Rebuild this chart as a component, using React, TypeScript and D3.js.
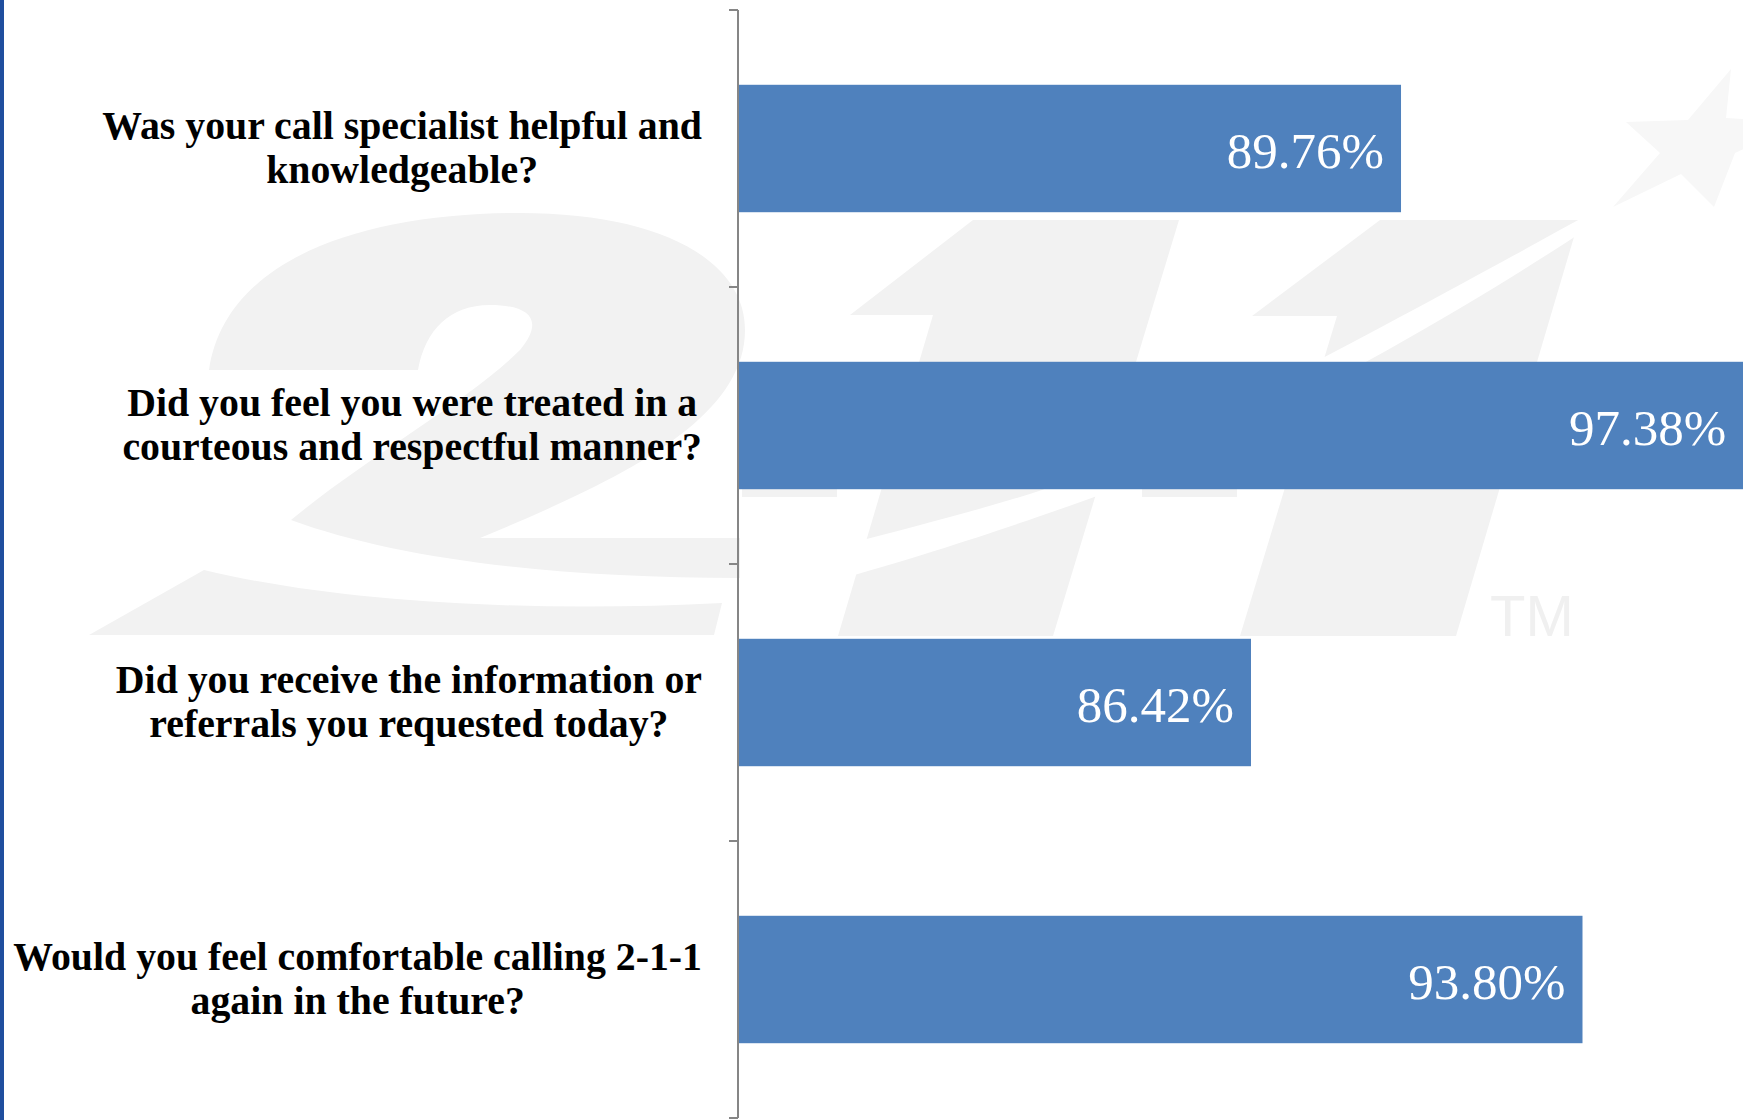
import { useEffect, useRef } from "react";
import * as d3 from "d3";

// survey questions (line breaks as in the picture)
const questions = [
  "Was your call specialist helpful and\nknowledgeable?",
  "Did you feel you were treated in a\ncourteous and respectful manner?",
  "Did you receive the information or\nreferrals you requested today?",
  "Would you feel comfortable calling 2-1-1\nagain in the future?",
];
const satisfaction = [89.76, 97.38, 86.42, 93.8];
const valueLabels = ["89.76%", "97.38%", "86.42%", "93.80%"];
const xDomain = [75, 100];

const W = 1743;
const H = 1120;

// faint 2-1-1 logo drawn behind the chart
const logoTwo =
  "M209,370 C225,260 360,213 520,213 C660,213 745,260 745,330 C745,420 620,480 480,538 L740,538 L740,578 C560,578 400,560 291,520 C370,455 470,400 520,350 C545,320 530,305 490,305 C450,305 425,330 418,370 Z";
const logoSwoosh = "M89,635 L204,570 C350,605 550,612 722,603 L714,635 Z";
const logoOneA = "M973,220 L1179,220 L1053,636 L838,636 L933,315 L850,315 Z";
const logoOneB = "M1380,220 L1579,220 L1456,636 L1240,636 L1337,316 L1252,316 Z";
const logoGap =
  "M1582,218 C1450,290 1200,430 1042,490 C980,510 920,525 840,546 L830,582 C950,548 1030,520 1097,496 C1250,430 1450,320 1588,228 Z";
const logoStar =
  "M1731,69 L1726,118 L1800,122 L1735,153 L1714,207 L1681,174 L1613,207 L1660,153 L1626,122 L1688,120 Z";

export default function App() {
  const ref = useRef<SVGSVGElement>(null);

  useEffect(() => {
    d3.select("body").style("margin", "0");
    const svg = d3.select(ref.current);
    svg.selectAll("*").remove();

    svg.append("rect").attr("width", W).attr("height", H).attr("fill", "#ffffff");

    // watermark
    const logo = svg.append("g").attr("fill", "#f2f2f2");
    logo.append("path").attr("d", logoTwo);
    logo.append("path").attr("d", logoSwoosh);
    logo.append("rect").attr("x", 742).attr("y", 470).attr("width", 95).attr("height", 27);
    logo.append("rect").attr("x", 1142).attr("y", 470).attr("width", 95).attr("height", 27);
    logo.append("path").attr("d", logoOneA);
    logo.append("path").attr("d", logoOneB);
    logo.append("path").attr("d", logoGap).attr("fill", "#ffffff");
    logo.append("path").attr("d", logoStar).attr("fill", "#f7f7f7");
    logo
      .append("text")
      .attr("x", 1490)
      .attr("y", 636)
      .attr("font-family", "Liberation Sans, Arial, sans-serif")
      .attr("font-size", 58)
      .attr("fill", "#f0f0f0")
      .text("TM");

    // left border
    svg.append("rect").attr("x", 0).attr("y", 0).attr("width", 4).attr("height", H).attr("fill", "#1f4e9e");

    const x = d3.scaleLinear().domain(xDomain).range([738, 1861]);
    const y = d3
      .scaleBand<string>()
      .domain(questions)
      .range([10, 1118])
      .paddingInner(0.54)
      .paddingOuter(0.27);

    // bars
    svg
      .selectAll("rect.bar")
      .data(questions)
      .enter()
      .append("rect")
      .attr("class", "bar")
      .attr("x", x(xDomain[0]))
      .attr("y", (d) => y(d)!)
      .attr("width", (d, i) => x(satisfaction[i]) - x(xDomain[0]))
      .attr("height", y.bandwidth())
      .attr("fill", "#4f81bd");

    // value labels
    svg
      .selectAll("text.value")
      .data(questions)
      .enter()
      .append("text")
      .attr("class", "value")
      .attr("x", (d, i) => x(satisfaction[i]) - 17)
      .attr("y", (d) => y(d)! + y.bandwidth() / 2)
      .attr("dy", "0.38em")
      .attr("text-anchor", "end")
      .attr("font-family", "Liberation Serif, Times New Roman, serif")
      .attr("font-size", 51)
      .attr("fill", "#ffffff")
      .text((d, i) => valueLabels[i]);

    // axis line with ticks at band edges
    const x0 = x(xDomain[0]);
    const axis = svg.append("g").attr("stroke", "#868686").attr("stroke-width", 2);
    axis.append("line").attr("x1", x0).attr("x2", x0).attr("y1", 10).attr("y2", 1118);
    d3.range(questions.length + 1).forEach((i) => {
      const ty = y.range()[0] + i * y.step();
      axis.append("line").attr("x1", x0 - 9).attr("x2", x0).attr("y1", ty).attr("y2", ty);
    });

    // category labels: block right aligned to the axis, lines centered in the block
    const labelRight = x0 - 36;
    const lineGap = 43.5;
    questions.forEach((q) => {
      const lines = q.split("\n");
      const cy = y(q)! + y.bandwidth() / 2;
      const texts = lines.map((ln, i) =>
        svg
          .append("text")
          .attr("y", cy + (i - (lines.length - 1) / 2) * lineGap + 12.5)
          .attr("text-anchor", "middle")
          .attr("font-family", "Liberation Serif, Times New Roman, serif")
          .attr("font-weight", "bold")
          .attr("font-size", 39.8)
          .attr("fill", "#000000")
          .text(ln),
      );
      const widest = d3.max(texts, (t) => (t.node() as SVGTextElement).getComputedTextLength()) ?? 0;
      texts.forEach((t) => t.attr("x", labelRight - widest / 2));
    });
  }, []);

  return <svg ref={ref} width={W} height={H} style={{ display: "block" }} />;
}
